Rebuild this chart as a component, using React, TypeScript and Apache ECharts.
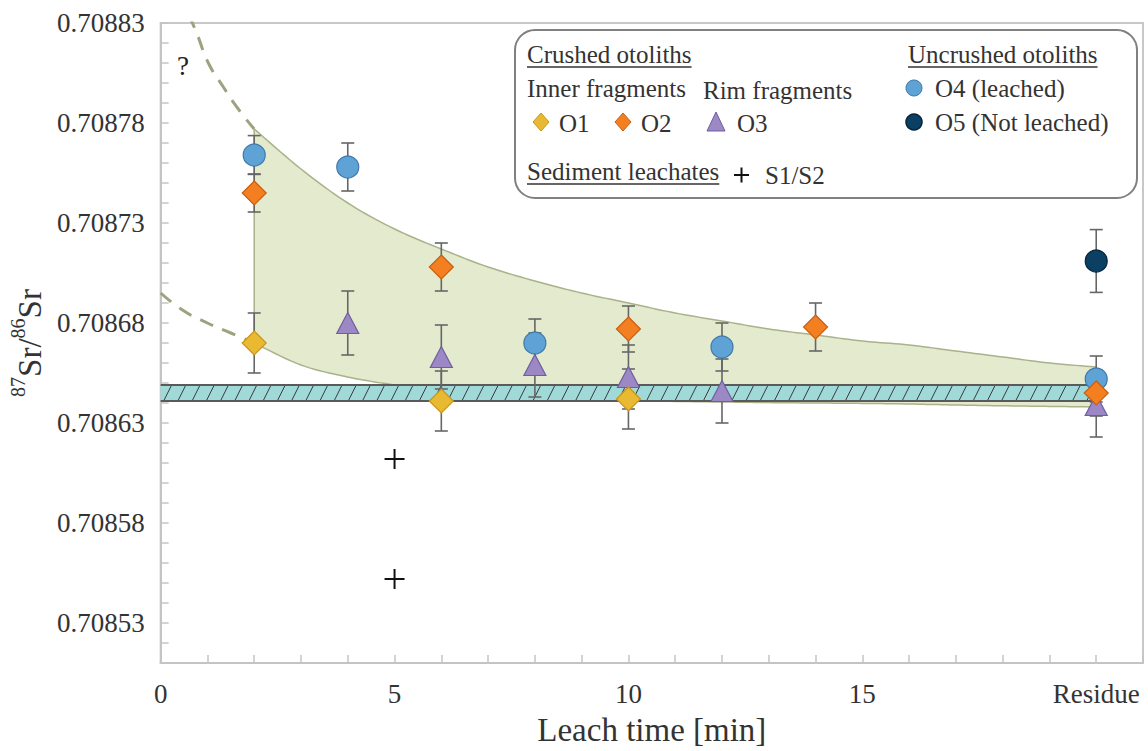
import React, { useEffect, useRef } from "react";
import * as echarts from "echarts";

// ---------- data ----------
// [leach time, 87Sr/86Sr, 2SE]
const o1Inner = [
  [2, 0.70867, 0.000015],
  [6, 0.708641, 0.000015],
  [10, 0.708642, 0.000015],
];
const o2Inner = [
  [2, 0.708745, 0.0000095],
  [6, 0.708708, 0.000012],
  [10, 0.708677, 0.0000115],
  [14, 0.708678, 0.000012],
  [20, 0.708645, 0.0000115],
];
const o3Rim = [
  [4, 0.70868, 0.000016],
  [6, 0.708663, 0.000016],
  [8, 0.708659, 0.000016],
  [10, 0.708653, 0.000016],
  [12, 0.708646, 0.000016],
  [20, 0.708639, 0.000016],
];
const o4Leached = [
  [2, 0.708764, 0.0000097],
  [4, 0.708758, 0.000012],
  [8, 0.70867, 0.000012],
  [12, 0.708668, 0.000012],
  [20, 0.708652, 0.0000115],
];
const o5NotLeached = [[20, 0.708711, 0.0000157]];
const sediment = [
  [5, 0.708612],
  [5, 0.708552],
];

// envelope of leachate trend
const envX = [2, 3, 4, 5, 6, 7, 8, 9, 10, 11, 12, 13, 14, 15, 16, 17, 18, 19, 20];
const envUpper = [
  0.708777, 0.708757, 0.70874, 0.708727, 0.708717, 0.708708, 0.708701, 0.708695,
  0.70869, 0.708685, 0.708681, 0.708677, 0.708674, 0.708671, 0.708669, 0.708666,
  0.708663, 0.70866, 0.708658,
];
const envLower = [
  0.70867, 0.708659, 0.708653, 0.708649, 0.708646, 0.708644, 0.708643, 0.708642,
  0.708641, 0.7086408, 0.7086405, 0.7086402, 0.70864, 0.7086398, 0.7086395,
  0.708639, 0.7086386, 0.7086383, 0.708638,
];
const dashUpper = [
  [0.6, 0.708834],
  [0.77, 0.708825],
  [1.02, 0.70881],
  [1.34, 0.708798],
  [1.66, 0.708787],
  [2, 0.708777],
];
const dashLower = [
  [0, 0.708695],
  [0.5, 0.708686],
  [1, 0.70868],
  [1.5, 0.708675],
  [2, 0.70867],
];
// seawater band
const bandRange = [0.708641, 0.708649];
const bandX = [0, 20];

const xTickValues = [0, 5, 10, 15, 20];
const xTickLabels = ["0", "5", "10", "15", "Residue"];

const SERIF = "'Liberation Serif', 'Times New Roman', serif";
const LEG_FONT = `25px ${SERIF}`;
const C_O1 = "#e9b931";
const C_O2 = "#f47f20";
const C_O3 = "#9b88c5";
const C_O4 = "#5fa3d6";
const C_O5 = "#0b3f63";

function textWidth(text: string, font: string) {
  const ctx = document.createElement("canvas").getContext("2d");
  if (!ctx) return text.length * 10;
  ctx.font = font;
  return ctx.measureText(text).width;
}

// Catmull-Rom smoothing of pixel points (rendering only)
function smoothPts(pts: number[][], steps = 10) {
  const out: number[][] = [];
  const n = pts.length;
  for (let i = 0; i < n - 1; i++) {
    const p0 = pts[i - 1] || pts[i];
    const p1 = pts[i];
    const p2 = pts[i + 1];
    const p3 = pts[i + 2] || pts[i + 1];
    for (let s = 0; s < steps; s++) {
      const t = s / steps;
      const t2 = t * t;
      const t3 = t2 * t;
      const f = (a: number, b: number, c: number, d: number) =>
        0.5 * (2 * b + (-a + c) * t + (2 * a - 5 * b + 4 * c - d) * t2 + (-a + 3 * b - 3 * c + d) * t3);
      out.push([f(p0[0], p1[0], p2[0], p3[0]), f(p0[1], p1[1], p2[1], p3[1])]);
    }
  }
  out.push(pts[n - 1]);
  return out;
}

function errorSeries(data: number[][]) {
  return {
    type: "custom",
    z: 4,
    silent: true,
    data,
    renderItem: (_p: any, api: any) => {
      const x = api.value(0);
      const y = api.value(1);
      const e = api.value(2);
      const t = api.coord([x, y + e]);
      const b = api.coord([x, y - e]);
      const st = { stroke: "#666", lineWidth: 1.6 };
      return {
        type: "group",
        children: [
          { type: "line", shape: { x1: t[0], y1: t[1], x2: b[0], y2: b[1] }, style: st },
          { type: "line", shape: { x1: t[0] - 6.5, y1: t[1], x2: t[0] + 6.5, y2: t[1] }, style: st },
          { type: "line", shape: { x1: b[0] - 6.5, y1: b[1], x2: b[0] + 6.5, y2: b[1] }, style: st },
        ],
      };
    },
  };
}

function scatter(data: number[][], symbol: string, size: any, color: string, border: string, z: number) {
  return {
    type: "scatter",
    z,
    symbol,
    symbolSize: size,
    data: data.map((d) => [d[0], d[1]]),
    itemStyle: { color, borderColor: border, borderWidth: 1.2, opacity: 1 },
  };
}

function legendText(text: string, x: number, y: number) {
  return {
    type: "text",
    z: 101,
    x,
    y,
    style: { text, font: LEG_FONT, fill: "#333", verticalAlign: "middle", align: "left" },
  };
}
function underlined(text: string, x: number, y: number) {
  const w = textWidth(text, LEG_FONT);
  return [
    legendText(text, x, y),
    { type: "line", z: 101, shape: { x1: x, y1: y + 13, x2: x + w, y2: y + 13 }, style: { stroke: "#333", lineWidth: 1.3 } },
  ];
}

export default function App() {
  const ref = useRef<HTMLDivElement>(null);
  useEffect(() => {
    document.body.style.margin = "0";
    const chart = echarts.init(ref.current!, undefined, { renderer: "svg" });
    const option: any = {
      animation: false,
      backgroundColor: "#ffffff",
      grid: {
        left: 157,
        right: 5,
        top: 23,
        bottom: 85,
        show: true,
        borderColor: "#c8c8c8",
        borderWidth: 2,
      },
      xAxis: {
        type: "value",
        min: 0,
        max: 21,
        interval: 1,
        name: "Leach time [min]",
        nameLocation: "middle",
        nameGap: 50,
        nameTextStyle: { fontFamily: SERIF, fontSize: 33, color: "#333" },
        axisLine: { lineStyle: { color: "#c4c4c4", width: 2 } },
        axisTick: { inside: true, length: 8, lineStyle: { color: "#c4c4c4", width: 1.5 } },
        splitLine: { show: false },
        axisLabel: {
          fontFamily: SERIF,
          fontSize: 27,
          color: "#333",
          margin: 17,
          formatter: (v: number) => {
            const i = xTickValues.indexOf(Math.round(v));
            return i >= 0 && Math.abs(v - Math.round(v)) < 1e-6 ? xTickLabels[i] : "";
          },
        },
      },
      yAxis: {
        type: "value",
        min: 0.70851,
        max: 0.70883,
        interval: 0.00001,
        name: "{sup|87}{n|Sr/}{sup|86}{n|Sr}",
        nameLocation: "middle",
        nameRotate: 90,
        nameGap: 110,
        nameTextStyle: {
          fontFamily: SERIF,
          color: "#333",
          rich: {
            n: { fontFamily: SERIF, fontSize: 33, color: "#333", lineHeight: 38, verticalAlign: "bottom" },
            sup: { fontFamily: SERIF, fontSize: 20, color: "#333", verticalAlign: "top", lineHeight: 20 },
          },
        },
        axisLine: { show: true, lineStyle: { color: "#c4c4c4", width: 2 } },
        axisTick: { inside: true, length: 8, lineStyle: { color: "#c4c4c4", width: 1.5 } },
        splitLine: { show: false },
        axisLabel: {
          fontFamily: SERIF,
          fontSize: 27,
          color: "#333",
          margin: 16,
          formatter: (v: number) => {
            const n = Math.round(v * 1e5);
            return n % 5 === 3 ? v.toFixed(5) : "";
          },
        },
      },
      series: [
        {
          type: "custom",
          z: 1,
          silent: true,
          data: [[envX[0], envUpper[0]]],
          renderItem: (_p: any, api: any) => {
            const up = smoothPts(envX.map((x, i) => api.coord([x, envUpper[i]])));
            const lo = smoothPts(envX.map((x, i) => api.coord([x, envLower[i]]))).reverse();
            return {
              type: "polygon",
              shape: { points: up.concat(lo) },
              style: { fill: "#e3eacd", stroke: "#a9b28a", lineWidth: 1.5 },
            };
          },
        },
        {
          type: "line",
          z: 2,
          smooth: true,
          symbol: "none",
          silent: true,
          data: dashUpper,
          lineStyle: { color: "#9da37e", width: 3, type: [14, 10] },
        },
        {
          type: "line",
          z: 2,
          smooth: true,
          symbol: "none",
          silent: true,
          data: dashLower,
          lineStyle: { color: "#9da37e", width: 3, type: [14, 10] },
        },
        {
          type: "custom",
          z: 3,
          silent: true,
          data: [[bandX[0], bandRange[1]]],
          renderItem: (_p: any, api: any) => {
            const a = api.coord([bandX[0], bandRange[1]]);
            const b = api.coord([bandX[1], bandRange[0]]);
            const top = a[1];
            const bot = b[1];
            const children: any[] = [
              { type: "rect", shape: { x: a[0], y: top, width: b[0] - a[0], height: bot - top }, style: { fill: "#9fdad9" } },
            ];
            for (let x = a[0] + 3; x + 8 <= b[0]; x += 14.2) {
              children.push({
                type: "line",
                shape: { x1: x, y1: bot, x2: x + 8, y2: top },
                style: { stroke: "#3a3a3a", lineWidth: 1 },
              });
            }
            children.push({ type: "line", shape: { x1: a[0], y1: top, x2: b[0], y2: top }, style: { stroke: "#5a5a5a", lineWidth: 2 } });
            children.push({ type: "line", shape: { x1: a[0], y1: bot, x2: b[0], y2: bot }, style: { stroke: "#5a5a5a", lineWidth: 2 } });
            return { type: "group", children };
          },
        },
        errorSeries(o4Leached),
        errorSeries(o5NotLeached),
        errorSeries(o3Rim),
        errorSeries(o1Inner),
        errorSeries(o2Inner),
        scatter(o4Leached, "circle", 22, C_O4, "#3e78aa", 5),
        scatter(o5NotLeached, "circle", 22, C_O5, "#06243a", 5),
        scatter(o3Rim, "triangle", [22, 21], C_O3, "#6f5fa0", 6),
        scatter(o1Inner, "diamond", 24, C_O1, "#c8961a", 7),
        scatter(o2Inner, "diamond", 24, C_O2, "#c75f14", 7),
        {
          type: "custom",
          z: 7,
          silent: true,
          data: sediment,
          renderItem: (_p: any, api: any) => {
            const c = api.coord([api.value(0), api.value(1)]);
            const st = { stroke: "#111", lineWidth: 2 };
            return {
              type: "group",
              children: [
                { type: "line", shape: { x1: c[0] - 10, y1: c[1], x2: c[0] + 10, y2: c[1] }, style: st },
                { type: "line", shape: { x1: c[0], y1: c[1] - 10, x2: c[0], y2: c[1] + 10 }, style: st },
              ],
            };
          },
        },
      ],
      graphic: [
        {
          type: "text",
          x: 177,
          y: 66,
          style: { text: "?", font: `27px ${SERIF}`, fill: "#222", verticalAlign: "middle" },
        },
        {
          type: "rect",
          z: 100,
          shape: { x: 515, y: 30, width: 622, height: 168, r: 20 },
          style: { fill: "#ffffff", stroke: "#808080", lineWidth: 2 },
        },
        ...underlined("Crushed otoliths", 527, 54),
        ...underlined("Uncrushed otoliths", 908, 54),
        legendText("Inner fragments", 527, 88),
        legendText("Rim fragments", 703, 90),
        {
          type: "polygon",
          z: 101,
          shape: { points: [[541, 113], [549, 122], [541, 131], [533, 122]] },
          style: { fill: C_O1, stroke: "#c8961a", lineWidth: 1 },
        },
        legendText("O1", 559, 123),
        {
          type: "polygon",
          z: 101,
          shape: { points: [[623, 113], [631, 122], [623, 131], [615, 122]] },
          style: { fill: C_O2, stroke: "#c75f14", lineWidth: 1 },
        },
        legendText("O2", 641, 123),
        {
          type: "polygon",
          z: 101,
          shape: { points: [[716, 112], [725, 131], [707, 131]] },
          style: { fill: C_O3, stroke: "#6f5fa0", lineWidth: 1 },
        },
        legendText("O3", 737, 123),
        { type: "circle", z: 101, shape: { cx: 914, cy: 88, r: 8 }, style: { fill: C_O4, stroke: "#3e78aa", lineWidth: 1 } },
        legendText("O4 (leached)", 935, 88),
        { type: "circle", z: 101, shape: { cx: 914, cy: 122, r: 8 }, style: { fill: C_O5, stroke: "#06243a", lineWidth: 1.5 } },
        legendText("O5 (Not leached)", 935, 122),
        ...underlined("Sediment leachates", 527, 171),
        { type: "line", z: 101, shape: { x1: 734, y1: 175, x2: 749, y2: 175 }, style: { stroke: "#111", lineWidth: 2 } },
        { type: "line", z: 101, shape: { x1: 741.5, y1: 167.5, x2: 741.5, y2: 182.5 }, style: { stroke: "#111", lineWidth: 2 } },
        legendText("S1/S2", 765, 175),
      ],
    };
    chart.setOption(option);
    return () => chart.dispose();
  }, []);
  return <div ref={ref} style={{ width: 1148, height: 751 }} />;
}
